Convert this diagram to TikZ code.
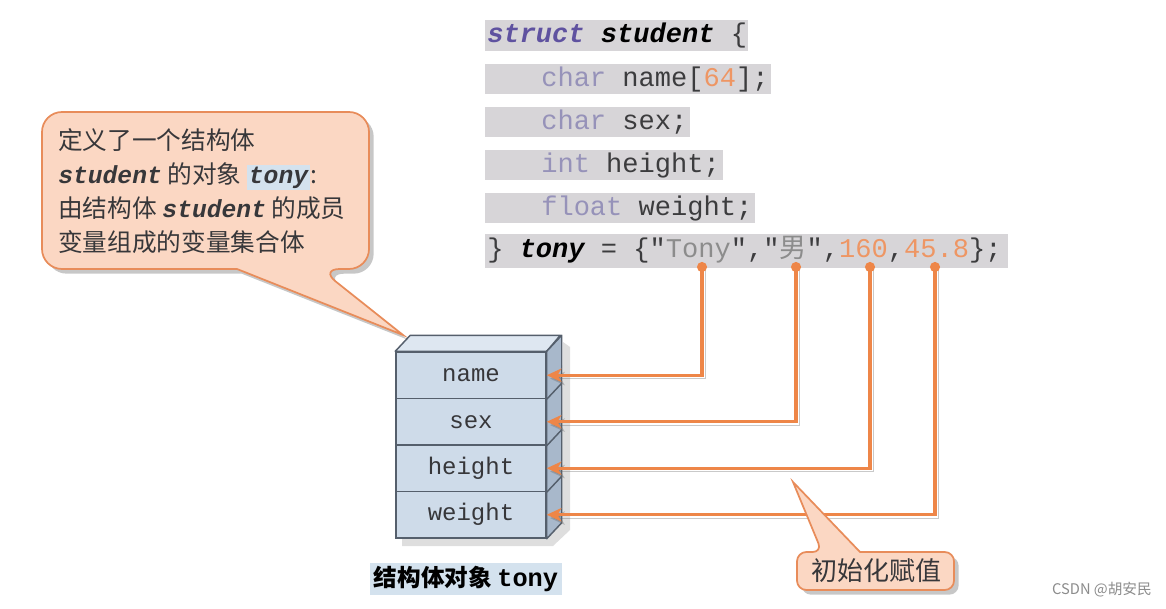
\documentclass[tikz,border=0pt]{standalone}
\usepackage{fontspec}
\setmainfont{Noto Sans CJK SC}
\setmonofont{Liberation Mono}
\usetikzlibrary{arrows.meta}
\definecolor{codebgc}{RGB}{215,213,216}
\definecolor{kwpurple}{RGB}{95,82,160}
\definecolor{kwlight}{RGB}{150,146,185}
\definecolor{codetxt}{RGB}{60,60,62}
\definecolor{numor}{RGB}{238,150,100}
\definecolor{strgray}{RGB}{140,140,140}
\definecolor{callfill}{RGB}{251,215,195}
\definecolor{callline}{RGB}{232,140,90}
\definecolor{connc}{RGB}{238,134,72}
\definecolor{boxfront}{RGB}{206,219,233}
\definecolor{boxtop}{RGB}{222,231,241}
\definecolor{boxside}{RGB}{168,184,203}
\definecolor{boxline}{RGB}{85,95,108}
\definecolor{lblbg}{RGB}{212,226,238}
\definecolor{txtdark}{RGB}{55,55,58}
\begin{document}
\begin{tikzpicture}[x=0.75pt,y=-0.75pt,
  pxw/.style={minimum width=#1*0.75pt},
  pxh/.style={minimum height=#1*0.75pt},
  codebg/.style={fill=codebgc, inner sep=0pt, anchor=north west},
  code/.style={font=\ttfamily\fontsize{20.3pt}{24pt}\selectfont, text=codetxt, inner sep=0pt, anchor=base west},
  row/.style={draw=boxline, line width=1.1pt, fill=boxfront, minimum width=112.5pt, minimum height=34.875pt, inner sep=0pt, font=\ttfamily\fontsize{18pt}{20pt}\selectfont, text=txtdark},
  callout/.style={fill=callfill, draw=callline, line width=1.3pt,
    preaction={fill=black, opacity=0.22, transform canvas={shift={(3.5pt,-3.5pt)}}}},
  conn/.style={draw=connc, line width=2.3pt, -{Stealth[length=11pt,width=10pt,inset=3pt]},
    preaction={draw=black!60, opacity=0.35, transform canvas={shift={(2.5pt,-2.5pt)}}}},
  dot/.style={fill=connc}
]
\fill[white] (0,0) rectangle (1166,609);
\useasboundingbox (0,0) rectangle (1166,609);

% ---- code block ----
\node[codebg, pxw=263, pxh=31] (bg1) at (485,20) {};
\node[codebg, pxw=286, pxh=30] (bg2) at (485,64) {};
\node[codebg, pxw=205, pxh=30] (bg3) at (485,107) {};
\node[codebg, pxw=238, pxh=30] (bg4) at (485,150) {};
\node[codebg, pxw=270, pxh=30] (bg5) at (485,193) {};
\node[codebg, pxw=523, pxh=34] (bg6) at (485,234) {};

\node[code] (l1) at (487,43) {{\color{kwpurple}\bfseries\itshape struct} {\color{black}\bfseries\itshape student} \{};
\node[code] (l2) at (541,87) {{\color{kwlight}char} name[{\color{numor}64}];};
\node[code] (l3) at (541,130) {{\color{kwlight}char} sex;};
\node[code] (l4) at (541,173) {{\color{kwlight}int} height;};
\node[code] (l5) at (541,216) {{\color{kwlight}float} weight;};
\node[code] (l6) at (487,258) {\} {\color{black}\bfseries\itshape tony} = \{"{\color{strgray}Tony}","{\rmfamily\color{strgray}男}",{\color{numor}160},{\color{numor}45.8}\};};

% ---- callout 1 ----
\draw[callout, rounded corners=15pt] (42,190) -- (42,112) -- (369,112) -- (369,269) -- (320,269) [sharp corners] -- (403,335) -- (237,269) [rounded corners=15pt] -- (42,269) -- cycle;
\node[anchor=north west, align=left, inner sep=0pt, text=txtdark,
  font=\fontsize{18.5pt}{25.5pt}\selectfont] (c1text) at (58,128)
  {定义了一个结构体\\
   {\ttfamily\bfseries\itshape student} 的对象 {\setlength{\fboxsep}{1.5pt}\colorbox{lblbg}{\ttfamily\bfseries\itshape tony}}:\\
   由结构体 {\ttfamily\bfseries\itshape student} 的成员\\
   变量组成的变量集合体};

% ---- 3D box ----
\fill[black, opacity=0.13] (563,342) -- (570,347) -- (570,530) -- (553,546) -- (402,546) -- (402,538) -- (546,538) -- (561,522) -- cycle;
\node[row] (rname) at (471,375.25) {name};
\node[row] (rsex) at (471,421.75) {sex};
\node[row] (rheight) at (471,468.25) {height};
\node[row] (rweight) at (471,514.75) {weight};
\filldraw[fill=boxtop, draw=boxline, line width=1.1pt, line join=round] (rname.north west) -- ++(15,-16) -- ++(150,0) -- (rname.north east) -- cycle;
\filldraw[fill=boxside, draw=boxline, line width=1.1pt, line join=round] (rname.north east) -- ++(15,-16) -- ([shift={(15,-16)}]rweight.south east) -- (rweight.south east) -- cycle;
\draw[boxline, line width=1.1pt] (rname.south east) -- ++(15,-16);
\draw[boxline, line width=1.1pt] (rsex.south east) -- ++(15,-16);
\draw[boxline, line width=1.1pt] (rheight.south east) -- ++(15,-16);

\node[fill=lblbg, pxw=192, pxh=32, inner sep=0pt, text=black, font=\bfseries\fontsize{17.7pt}{20pt}\selectfont] (lbl) at (466,579) {结构体对象 {\ttfamily\fontsize{19pt}{20pt}\selectfont tony}};

% ---- connectors ----
\coordinate (d1) at (702,267);
\coordinate (d2) at (796,267);
\coordinate (d3) at (870,267);
\coordinate (d4) at (935,267);
\draw[conn] (d1) |- (rname.east);
\draw[conn] (d2) |- (rsex.east);
\draw[conn] (d3) |- (rheight.east);
\draw[conn] (d4) |- (rweight.east);
\fill[dot] (d1) circle (3.8pt);
\fill[dot] (d2) circle (3.8pt);
\fill[dot] (d3) circle (3.8pt);
\fill[dot] (d4) circle (3.8pt);

% ---- callout 2 ----
\draw[callout, rounded corners=7pt] (797,570) -- (797,552) -- (822,552) [sharp corners] -- (793,482) -- (860,552) [rounded corners=7pt] -- (954,552) -- (954,590) -- (797,590) -- cycle;
\node[text=txtdark, inner sep=0pt, font=\fontsize{19.5pt}{22pt}\selectfont] (init) at (876,571) {初始化赋值};

% ---- watermark ----
\node[text=black!45, inner sep=0pt, font=\fontsize{11pt}{13pt}\selectfont] (wm) at (1102,590) {CSDN @胡安民};
\end{tikzpicture}
\end{document}
